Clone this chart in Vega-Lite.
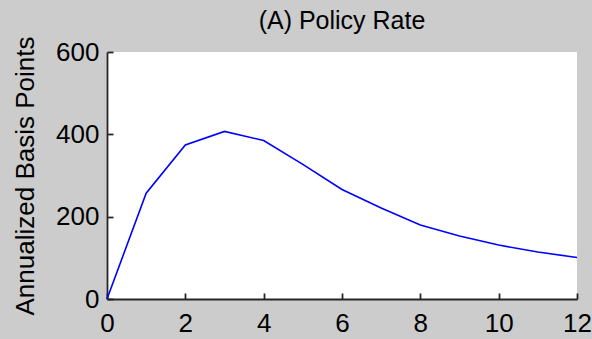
{
  "$schema": "https://vega.github.io/schema/vega-lite/v6.json",
  "width": 470,
  "height": 247,
  "autosize": {"type": "none"},
  "padding": {"left": 107, "top": 52, "right": 15, "bottom": 40},
  "background": "#cccccc",
  "title": {"text": "(A) Policy Rate", "fontSize": 25, "font": "Liberation Sans", "fontWeight": "normal", "color": "#000000", "offset": 2, "anchor": "middle"},
  "data": {"values": [
    {"q": 0, "bp": 0},
    {"q": 1, "bp": 257},
    {"q": 2, "bp": 374},
    {"q": 3, "bp": 407},
    {"q": 4, "bp": 385},
    {"q": 5, "bp": 327},
    {"q": 6, "bp": 266},
    {"q": 7, "bp": 221},
    {"q": 8, "bp": 180},
    {"q": 9, "bp": 153},
    {"q": 10, "bp": 131},
    {"q": 11, "bp": 114},
    {"q": 12, "bp": 101}
  ]},
  "config": {
    "view": {"fill": "#ffffff", "stroke": null},
    "axis": {
      "grid": false,
      "ticks": true,
      "domainColor": "#262626",
      "domainWidth": 1.8,
      "tickColor": "#262626",
      "tickWidth": 1.8,
      "tickSize": -6,
      "labelFont": "Liberation Sans",
      "labelFontSize": 26,
      "labelColor": "#000000",
      "titleFont": "Liberation Sans",
      "titleFontSize": 26,
      "titleFontWeight": "normal",
      "titleColor": "#000000"
    }
  },
  "mark": {"type": "line", "color": "#0000ff", "strokeWidth": 1.6},
  "encoding": {
    "x": {"field": "q", "type": "quantitative", "scale": {"domain": [0, 12], "nice": false}, "axis": {"values": [0, 2, 4, 6, 8, 10, 12], "title": null, "labelPadding": 17, "labelFlush": false}},
    "y": {"field": "bp", "type": "quantitative", "scale": {"domain": [0, 600], "nice": false}, "axis": {"values": [0, 200, 400, 600], "title": "Annualized Basis Points", "labelPadding": 14, "titlePadding": 17, "labelFlush": false}}
  }
}
